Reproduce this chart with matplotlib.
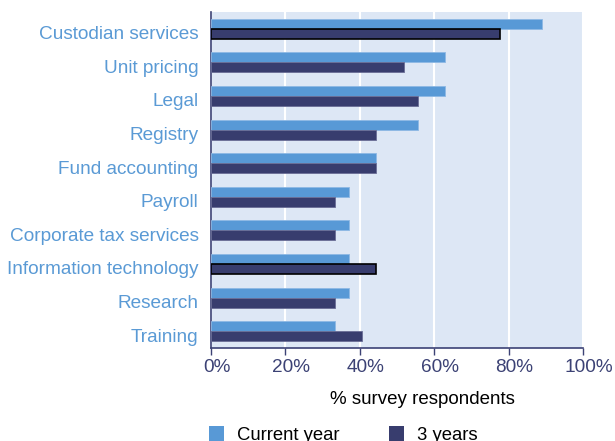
import matplotlib.pyplot as plt
import matplotlib.transforms as mtransforms
import numpy as np
from matplotlib.patches import Patch

plt.rcParams['font.family'] = ['Liberation Sans', 'DejaVu Sans']

categories = ["Custodian services", "Unit pricing", "Legal", "Registry",
              "Fund accounting", "Payroll", "Corporate tax services",
              "Information technology", "Research", "Training"]
current_year = [88.9, 63.0, 63.0, 55.6, 44.4, 37.0, 37.0, 37.0, 37.0, 33.3]
three_years = [77.8, 51.9, 55.6, 44.4, 44.4, 33.3, 33.3, 44.4, 33.3, 40.7]
highlight = ["Custodian services", "Information technology"]
ticks = [0, 20, 40, 60, 80, 100]

light = "#5899D6"
dark = "#383D6E"
navy = "#3C4275"
label_blue = "#5A9AD5"

fig = plt.figure(figsize=(6.15, 4.41), dpi=100)
ax = fig.add_axes([211 / 615, 1 - 348 / 441, 372 / 615, 336 / 441])
ax.set_facecolor("#DDE7F5")

y = np.arange(len(categories))
h = 0.3
ax.barh(y - h / 2, current_year, height=h, color=light,
        edgecolor="#8DB8E4", linewidth=0.6, zorder=3)
edges = ["black" if c in highlight else "#6A6E96" for c in categories]
widths = [1.2 if c in highlight else 0.6 for c in categories]
ax.barh(y + h / 2, three_years, height=h, color=dark,
        edgecolor=edges, linewidth=widths, zorder=3)

ax.set_ylim(len(categories) - 0.5, -0.5)
ax.set_xlim(0, 100)
ax.set_yticks(y)
ax.set_yticklabels(categories, color=label_blue, fontsize=13.7)
ax.set_xticks(ticks)
ax.set_xticklabels([f"{t}%" for t in ticks], color=navy, fontsize=13.7)
ax.tick_params(axis="y", length=0, pad=9)
ax.tick_params(axis="x", length=5, color=navy, width=1, pad=3)
ax.grid(axis="x", color="white", linewidth=1.5, zorder=1)

# nudge labels: category names sit a little low, percent labels a little right
down = mtransforms.ScaledTranslation(0, -4 / 100, fig.dpi_scale_trans)
for lab in ax.get_yticklabels():
    lab.set_transform(lab.get_transform() + down)
right = mtransforms.ScaledTranslation(6 / 100, 0, fig.dpi_scale_trans)
for lab in ax.get_xticklabels():
    lab.set_transform(lab.get_transform() + right)

for s in ["top", "right"]:
    ax.spines[s].set_visible(False)
for s in ["left", "bottom"]:
    ax.spines[s].set_color(navy)
    ax.spines[s].set_linewidth(1.2)

fig.text(422 / 615, 1 - 399 / 441, "% survey respondents",
         ha="center", va="center", fontsize=13.5, color="black")

handles = [Patch(facecolor=light, label="Current year"),
           Patch(facecolor=dark, label="3 years")]
fig.legend(handles=handles, loc="center left", ncol=2,
           bbox_to_anchor=(209 / 615, 1 - 435 / 441), frameon=False,
           fontsize=13.3, handlelength=0.8, handleheight=1.0,
           handletextpad=0.7, columnspacing=2.7, borderpad=0,
           borderaxespad=0)

fig.savefig("out.png", dpi=100)
